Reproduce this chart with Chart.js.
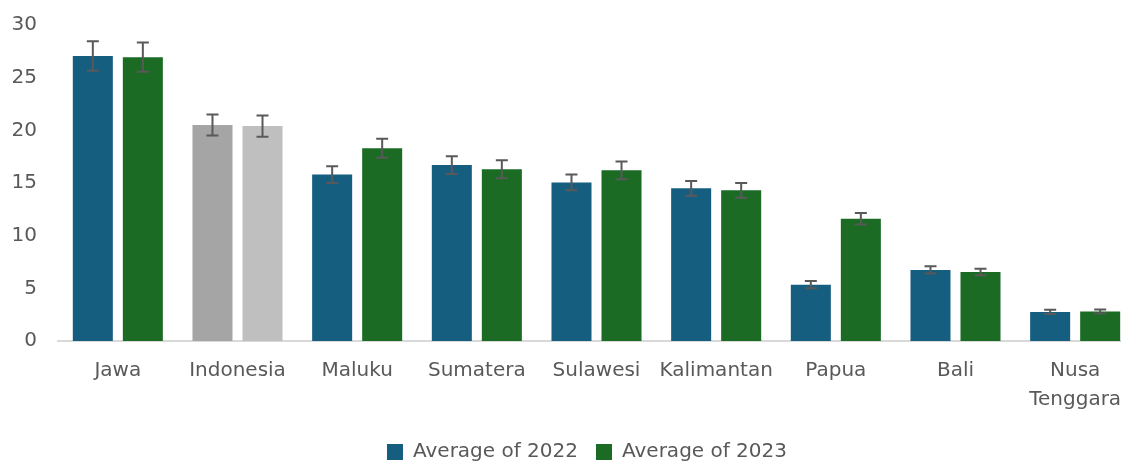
<!DOCTYPE html>
<html>
<head>
<meta charset="utf-8">
<script src="https://cdn.jsdelivr.net/npm/chart.js@4.4.1/dist/chart.umd.min.js"></script>
<style>
  html, body { margin: 0; padding: 0; background: #fff; overflow: hidden; }
  #wrap { position: relative; width: 1174px; height: 472px; }
</style>
</head>
<body>
<div id="wrap"><canvas id="c"></canvas></div>
<script>
const categories = ["Jawa", "Indonesia", "Maluku", "Sumatera", "Sulawesi", "Kalimantan", "Papua", "Bali", ["Nusa", "Tenggara"]];
const avg2022 = [27.05, 20.5, 15.8, 16.7, 15.05, 14.5, 5.35, 6.75, 2.76];
const avg2023 = [26.95, 20.4, 18.3, 16.3, 16.2, 14.3, 11.6, 6.55, 2.8];
const err2022 = [1.4, 1.0, 0.8, 0.85, 0.75, 0.7, 0.35, 0.35, 0.2];
const err2023 = [1.4, 1.0, 0.9, 0.85, 0.85, 0.7, 0.55, 0.3, 0.2];
const seriesNames = ["Average of 2022", "Average of 2023"];
const yTicks = [0, 5, 10, 15, 20, 25, 30];

const blue = '#155E80', green = '#1B6B24', grey1 = '#A5A5A5', grey2 = '#BFBFBF';
const colors2022 = categories.map((c, i) => i === 1 ? grey1 : blue);
const colors2023 = categories.map((c, i) => i === 1 ? grey2 : green);

const errorBars = {
  id: 'errorBars',
  afterDatasetsDraw(chart) {
    const ctx = chart.ctx;
    const ys = chart.scales.y;
    const errs = [err2022, err2023];
    ctx.save();
    ctx.strokeStyle = '#595959';
    ctx.lineWidth = 2;
    chart.data.datasets.forEach((ds, di) => {
      const meta = chart.getDatasetMeta(di);
      meta.data.forEach((el, i) => {
        const v = ds.data[i], e = errs[di][i];
        const x = el.x;
        const t = ys.getPixelForValue(v + e), b = ys.getPixelForValue(v - e);
        ctx.beginPath();
        ctx.moveTo(x, t); ctx.lineTo(x, b);
        ctx.moveTo(x - 6, t); ctx.lineTo(x + 6, t);
        ctx.moveTo(x - 6, b); ctx.lineTo(x + 6, b);
        ctx.stroke();
      });
    });
    ctx.restore();
  }
};

const font = "'DejaVu Sans', sans-serif";
new Chart(document.getElementById('c'), {
  type: 'bar',
  data: {
    labels: categories,
    datasets: [
      { label: seriesNames[0], data: avg2022, backgroundColor: colors2022 },
      { label: seriesNames[1], data: avg2023, backgroundColor: colors2023 }
    ]
  },
  options: {
    responsive: true,
    maintainAspectRatio: false,
    animation: false,
    devicePixelRatio: 1,
    layout: { padding: { top: 9, right: 0, left: 0, bottom: 0 } },
    datasets: { bar: { categoryPercentage: 0.836, barPercentage: 0.8 } },
    scales: {
      x: {
        grid: { display: false },
        border: { display: true, color: '#D9D9D9', width: 2 },
        ticks: { color: '#595959', font: { family: font, size: 20, lineHeight: 1.45 }, padding: 7, maxRotation: 0, autoSkip: false },
        afterFit(s) { s.height += 3; }
      },
      y: {
        min: 0, max: 30,
        afterBuildTicks(s) { s.ticks = yTicks.map(v => ({ value: v })); },
        afterFit(s) { s.width = 58; },
        grid: { display: false },
        border: { display: false },
        ticks: { color: '#595959', font: { family: font, size: 20 }, padding: 13 }
      },
      pad: {
        type: 'linear', position: 'right', display: true,
        grid: { display: false }, border: { display: false },
        ticks: { display: false },
        afterFit(s) { s.width = 39; }
      }
    },
    plugins: {
      legend: {
        position: 'bottom',
        labels: {
          color: '#595959',
          font: { family: font, size: 20 },
          boxWidth: 16, boxHeight: 16, padding: 18,
          generateLabels(chart) {
            return chart.data.datasets.map((ds, i) => ({
              text: ds.label, fillStyle: i === 0 ? blue : green, strokeStyle: i === 0 ? blue : green,
              lineWidth: 0, datasetIndex: i, fontColor: '#595959'
            }));
          }
        }
      },
      tooltip: { enabled: false }
    }
  },
  plugins: [errorBars]
});
</script>
</body>
</html>
